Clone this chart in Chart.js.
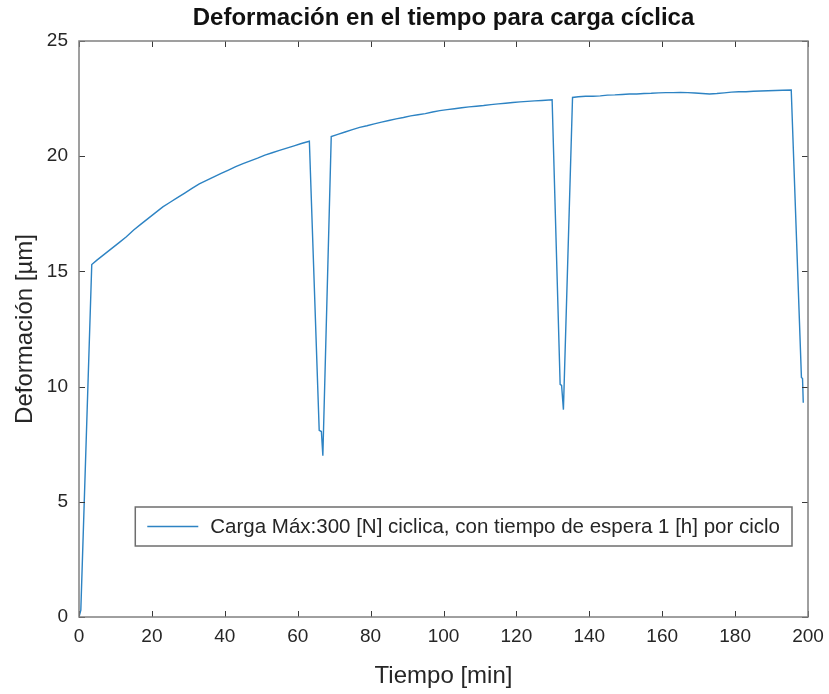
<!DOCTYPE html>
<html>
<head>
<meta charset="utf-8">
<script src="https://cdn.jsdelivr.net/npm/chart.js@4/dist/chart.umd.min.js"></script>
<style>
  html, body { margin: 0; padding: 0; background: #ffffff; }
  #wrap { width: 829px; height: 694px; }
</style>
</head>
<body>
<div id="wrap"><canvas id="c" width="829" height="694"></canvas></div>
<script>
// Deformación medida bajo carga cíclica (300 N, espera de 1 h por ciclo)
const timeMin = [
  0, 0.5, 3.5, 5, 7, 9, 11, 13, 15, 17, 19, 21, 23, 25, 27, 29, 31, 33, 35, 37, 39,
  41, 43, 45, 47, 49, 51, 53, 55, 57, 59, 61, 63.2,
  65.9, 66.5, 66.9,
  69.2, 71, 73, 75, 77, 79, 81, 83, 85, 87, 89, 91, 93, 95, 97, 99, 101, 103, 105,
  107, 109, 111, 113, 115, 117, 119, 121, 123, 125, 127, 129.8,
  132.0, 132.4, 132.9,
  135.4, 137, 139, 141, 143, 145, 147, 149, 151, 153, 155, 157, 159, 161, 163, 165,
  167, 169, 171, 173, 175, 177, 179, 181, 183, 185, 187, 189, 191, 193, 195.4,
  198.2, 198.5, 198.7
];
const deformUm = [
  0, 0.3, 15.3, 15.5, 15.75, 16.0, 16.25, 16.5, 16.8, 17.05, 17.3, 17.55, 17.8, 18.0, 18.2, 18.4, 18.6, 18.8, 18.95, 19.1, 19.25,
  19.4, 19.55, 19.68, 19.8, 19.92, 20.05, 20.15, 20.25, 20.35, 20.45, 20.55, 20.65,
  8.1, 8.05, 7.0,
  20.85, 20.95, 21.05, 21.15, 21.25, 21.32, 21.4, 21.48, 21.55, 21.62, 21.68, 21.75, 21.8, 21.85, 21.92, 21.98, 22.02, 22.06, 22.1,
  22.14, 22.17, 22.2, 22.24, 22.27, 22.3, 22.33, 22.36, 22.38, 22.4, 22.42, 22.45,
  10.1, 10.05, 9.0,
  22.55, 22.58, 22.6, 22.6, 22.62, 22.65, 22.66, 22.68, 22.7, 22.7, 22.72, 22.73, 22.75, 22.76, 22.76, 22.77,
  22.76, 22.74, 22.72, 22.7, 22.72, 22.75, 22.78, 22.8, 22.8, 22.82, 22.83, 22.84, 22.85, 22.86, 22.87,
  10.4, 10.35, 9.3
];
const xTicks = [0, 20, 40, 60, 80, 100, 120, 140, 160, 180, 200];
const yTicks = [0, 5, 10, 15, 20, 25];
const seriesLabel = 'Carga Máx:300 [N] ciclica, con tiempo de espera 1 [h] por ciclo';
const chartTitle = 'Deformación en el tiempo para carga cíclica';
const xTitle = 'Tiempo [min]';
const yTitle = 'Deformación [µm]';

const FONT = '"Liberation Sans", Arial, Helvetica, sans-serif';
const LINE_COLOR = '#2d83c3';

const points = timeMin.map((t, i) => ({ x: t, y: deformUm[i] }));

// Box around the axes, with inward tick marks on all four sides
const boxAxes = {
  id: 'boxAxes',
  afterDatasetsDraw(chart) {
    const { ctx, chartArea: a, scales } = chart;
    const len = 6;
    ctx.save();
    ctx.strokeStyle = '#3a3a3a';
    ctx.lineWidth = 1;
    ctx.beginPath();
    xTicks.forEach(v => {
      const px = Math.round(scales.x.getPixelForValue(v)) + 0.5;
      ctx.moveTo(px, a.bottom); ctx.lineTo(px, a.bottom - len);
      ctx.moveTo(px, a.top); ctx.lineTo(px, a.top + len);
    });
    yTicks.forEach(v => {
      const py = Math.round(scales.y.getPixelForValue(v)) + 0.5;
      ctx.moveTo(a.left, py); ctx.lineTo(a.left + len, py);
      ctx.moveTo(a.right, py); ctx.lineTo(a.right - len, py);
    });
    ctx.stroke();
    ctx.strokeStyle = '#808080';
    ctx.lineWidth = 1.5;
    ctx.strokeRect(a.left, a.top, a.right - a.left, a.bottom - a.top);
    ctx.restore();
  }
};

// Title centred over the axes box
const axesTitle = {
  id: 'axesTitle',
  afterDraw(chart, args, opts) {
    const { ctx, chartArea: a } = chart;
    ctx.save();
    ctx.font = 'bold ' + opts.fontSize + 'px ' + FONT;
    ctx.fillStyle = '#111111';
    ctx.textAlign = 'center';
    ctx.textBaseline = 'alphabetic';
    ctx.fillText(opts.text, (a.left + a.right) / 2, opts.baseline);
    ctx.restore();
  }
};

// Legend drawn inside the plot area, bottom-right
const insetLegend = {
  id: 'insetLegend',
  afterDraw(chart, args, opts) {
    const { ctx, chartArea: a } = chart;
    const ds = chart.data.datasets[0];
    ctx.save();
    ctx.font = opts.fontSize + 'px ' + FONT;
    const tw = ctx.measureText(ds.label).width;
    const w = 12 + 51 + 12 + tw + 12;
    const h = 39;
    const x0 = a.right - opts.rightGap - w;
    const y0 = a.bottom - opts.bottomGap - h;
    ctx.fillStyle = '#ffffff';
    ctx.fillRect(x0, y0, w, h);
    ctx.strokeStyle = '#6e6e6e';
    ctx.lineWidth = 1.5;
    ctx.strokeRect(x0, y0, w, h);
    ctx.strokeStyle = ds.borderColor;
    ctx.lineWidth = ds.borderWidth;
    ctx.beginPath();
    ctx.moveTo(x0 + 12, y0 + h / 2);
    ctx.lineTo(x0 + 63, y0 + h / 2);
    ctx.stroke();
    ctx.fillStyle = '#262626';
    ctx.textBaseline = 'middle';
    ctx.textAlign = 'left';
    ctx.fillText(ds.label, x0 + 75, y0 + h / 2 + 1);
    ctx.restore();
  }
};

new Chart(document.getElementById('c'), {
  type: 'line',
  data: {
    datasets: [{
      label: seriesLabel,
      data: points,
      borderColor: LINE_COLOR,
      backgroundColor: LINE_COLOR,
      borderWidth: 1.4,
      pointRadius: 0,
      tension: 0,
      fill: false
    }]
  },
  options: {
    responsive: false,
    animation: false,
    layout: { padding: { left: 0, right: 0, top: 41, bottom: 0 } },
    plugins: {
      legend: { display: false },
      tooltip: { enabled: false },
      title: { display: false },
      axesTitle: { text: chartTitle, fontSize: 24, baseline: 25 },
      insetLegend: { fontSize: 20.5, rightGap: 16, bottomGap: 71 }
    },
    scales: {
      x: {
        type: 'linear',
        min: 0,
        max: 200,
        afterBuildTicks(scale) { scale.ticks = xTicks.map(v => ({ value: v })); },
        afterFit(scale) { scale.height = 77; scale.paddingRight = 21; },
        grid: { display: false, drawTicks: false },
        border: { display: false },
        ticks: {
          color: '#262626',
          font: { family: FONT, size: 19 },
          padding: 8,
          maxRotation: 0,
          autoSkip: false
        },
        title: {
          display: true,
          text: xTitle,
          color: '#262626',
          font: { family: FONT, size: 24 },
          padding: { top: 0, bottom: 3 }
        }
      },
      y: {
        type: 'linear',
        min: 0,
        max: 25,
        afterBuildTicks(scale) { scale.ticks = yTicks.map(v => ({ value: v })); },
        afterFit(scale) { scale.width = 79; },
        grid: { display: false, drawTicks: false },
        border: { display: false },
        ticks: {
          color: '#262626',
          font: { family: FONT, size: 19 },
          padding: 11,
          autoSkip: false
        },
        title: {
          display: true,
          text: yTitle,
          color: '#262626',
          font: { family: FONT, size: 24 },
          padding: { top: 11, bottom: 0 }
        }
      }
    }
  },
  plugins: [boxAxes, axesTitle, insetLegend]
});
</script>
</body>
</html>
